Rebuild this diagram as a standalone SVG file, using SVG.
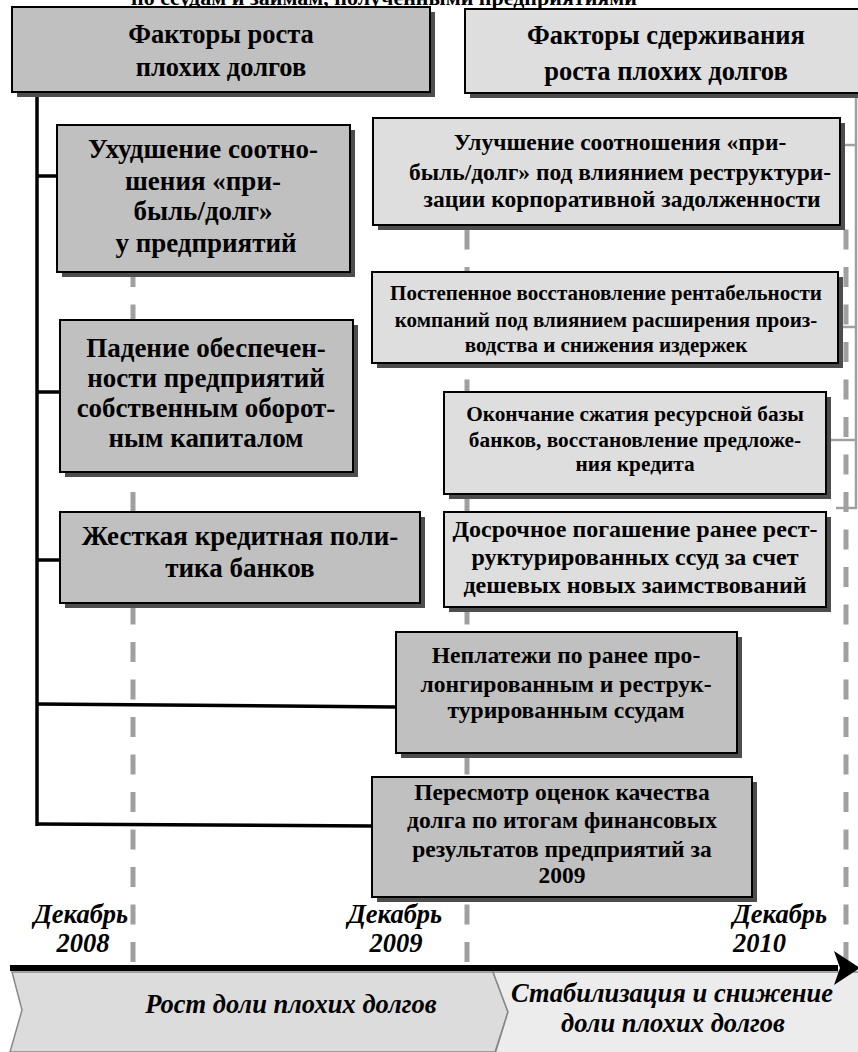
<svg xmlns="http://www.w3.org/2000/svg" width="858" height="1052" viewBox="0 0 858 1052">
<style>
  .t { font-family: "Liberation Serif", "Times New Roman", serif; font-weight: bold; fill: #000; text-anchor: middle; }
  .it { font-style: italic; }
  .dark { fill: #c0c0c0; stroke: #000; stroke-width: 2; }
  .light { fill: #dedede; stroke: #000; stroke-width: 2; }
  .shadow { fill: #4d4d4d; }
  .conn { stroke: #000; stroke-width: 3.5; fill: none; }
  .dash { stroke: #a0a0a0; stroke-width: 5; stroke-dasharray: 20 17.5; fill: none; }
  .brk { stroke: #a0a0a0; stroke-width: 2.5; fill: none; }
</style>
<rect width="858" height="1052" fill="#fff"/>
<text class="t" x="384" y="5" font-size="22">по ссудам и займам, полученными предприятиями</text>

<g id="connectors">
  <line class="dash" x1="133" y1="229.5" x2="133" y2="962"/>
  <line class="dash" x1="467" y1="229.5" x2="467" y2="962"/>
  <line class="dash" x1="846" y1="229.5" x2="846" y2="962"/>
  <polyline class="brk" points="856,93 856,508"/>
  <line class="brk" x1="845" y1="145" x2="856" y2="145"/>
  <line class="brk" x1="843" y1="327" x2="856" y2="327"/>
  <line class="brk" x1="831" y1="440" x2="856" y2="440"/>
  <line class="brk" x1="836" y1="508" x2="857" y2="508"/>
  <line class="conn" x1="37" y1="92" x2="37" y2="826"/>
  <line class="conn" x1="37" y1="176" x2="57" y2="176"/>
  <line class="conn" x1="37" y1="392" x2="60" y2="392"/>
  <line class="conn" x1="37" y1="560" x2="60" y2="560"/>
  <line class="conn" x1="37" y1="704" x2="396" y2="707"/>
  <line class="conn" x1="37" y1="824" x2="372" y2="826"/>
</g>

<g id="header-left">
  <rect class="shadow" x="17" y="12" width="418" height="85"/>
  <rect class="dark" x="12" y="7" width="418" height="85"/>
  <text class="t" x="221" y="43" font-size="26.5">Факторы роста</text>
  <text class="t" x="221" y="76" font-size="26.5">плохих долгов</text>
</g>
<g id="header-right">
  <rect class="shadow" x="470" y="14" width="400" height="84"/>
  <rect class="light" x="465" y="9" width="400" height="84" stroke-width="3"/>
  <text class="t" x="666" y="44" font-size="26.5">Факторы сдерживания</text>
  <text class="t" x="666" y="80" font-size="26.5">роста плохих долгов</text>
</g>

<g id="box-ratio-worse">
  <rect class="shadow" x="62" y="130" width="293" height="147"/>
  <rect class="dark" x="57" y="125" width="293" height="147"/>
  <text class="t" x="203" y="158" font-size="27">Ухудшение соотно-</text>
  <text class="t" x="203" y="190" font-size="27">шения «при-</text>
  <text class="t" x="203" y="220" font-size="27">быль/долг»</text>
  <text class="t" x="206" y="252" font-size="27">у предприятий</text>
</g>
<g id="box-capital">
  <rect class="shadow" x="65" y="325" width="293" height="152"/>
  <rect class="dark" x="60" y="320" width="293" height="152"/>
  <text class="t" x="206" y="357" font-size="27">Падение обеспечен-</text>
  <text class="t" x="206" y="387" font-size="27">ности предприятий</text>
  <text class="t" x="206" y="417" font-size="27">собственным оборот-</text>
  <text class="t" x="206" y="447" font-size="27">ным капиталом</text>
</g>
<g id="box-credit-policy">
  <rect class="shadow" x="65" y="517" width="360" height="91"/>
  <rect class="dark" x="60" y="512" width="360" height="91"/>
  <text class="t" x="240" y="545" font-size="27">Жесткая кредитная поли-</text>
  <text class="t" x="240" y="577" font-size="27">тика банков</text>
</g>
<g id="box-nonpayments">
  <rect class="shadow" x="401" y="637" width="341" height="121"/>
  <rect class="dark" x="396" y="632" width="341" height="121"/>
  <text class="t" x="566" y="663" font-size="23.6">Неплатежи по ранее про-</text>
  <text class="t" x="566" y="692" font-size="23.6">лонгированным и реструк-</text>
  <text class="t" x="566" y="718" font-size="23.6">турированным ссудам</text>
</g>
<g id="box-revision">
  <rect class="shadow" x="377" y="782" width="380" height="120"/>
  <rect class="dark" x="372" y="777" width="380" height="120"/>
  <text class="t" x="562" y="800" font-size="23.5">Пересмотр оценок качества</text>
  <text class="t" x="562" y="828" font-size="23.5">долга по итогам финансовых</text>
  <text class="t" x="562" y="857" font-size="23.5">результатов предприятий за</text>
  <text class="t" x="562" y="883" font-size="23.5">2009</text>
</g>

<g id="box-ratio-better">
  <rect class="shadow" x="378" y="123" width="467" height="107"/>
  <rect class="light" x="373" y="118" width="467" height="107"/>
  <text class="t" x="620" y="150" font-size="23.5">Улучшение соотношения «при-</text>
  <text class="t" x="620" y="180" font-size="23.5">быль/долг» под влиянием реструктури-</text>
  <text class="t" x="622" y="207" font-size="23.5">зации корпоративной задолженности</text>
</g>
<g id="box-profitability">
  <rect class="shadow" x="377" y="277" width="466" height="91"/>
  <rect class="light" x="372" y="272" width="466" height="91"/>
  <text class="t" x="606" y="300" font-size="21">Постепенное восстановление рентабельности</text>
  <text class="t" x="606" y="327" font-size="21">компаний под влиянием расширения произ-</text>
  <text class="t" x="606" y="352" font-size="21">водства и снижения издержек</text>
</g>
<g id="box-resource-base">
  <rect class="shadow" x="449" y="397" width="382" height="102"/>
  <rect class="light" x="444" y="392" width="382" height="102"/>
  <text class="t" x="635" y="421" font-size="21.3">Окончание сжатия ресурсной базы</text>
  <text class="t" x="635" y="447" font-size="21.3">банков, восстановление предложе-</text>
  <text class="t" x="635" y="471" font-size="21.3">ния кредита</text>
</g>
<g id="box-early-repayment">
  <rect class="shadow" x="449" y="517" width="382" height="95"/>
  <rect class="light" x="444" y="512" width="382" height="95"/>
  <text class="t" x="635" y="537" font-size="24">Досрочное погашение ранее рест-</text>
  <text class="t" x="635" y="565" font-size="24">руктурированных ссуд за счет</text>
  <text class="t" x="635" y="593" font-size="24">дешевых новых заимствований</text>
</g>

<g id="dates">
  <text class="t it" x="81" y="923" font-size="26.5">Декабрь</text>
  <text class="t it" x="83" y="952" font-size="26.5">2008</text>
  <text class="t it" x="395" y="923" font-size="26.5">Декабрь</text>
  <text class="t it" x="396" y="952" font-size="26.5">2009</text>
  <text class="t it" x="780" y="923" font-size="26.5">Декабрь</text>
  <text class="t it" x="733" y="952" font-size="26.5" style="text-anchor:start">2010</text>
</g>

<g id="phase-growth">
  <polygon points="12,972 493,972 508,1012 495,1052 10,1052 22,1010" fill="#dcdcdc" stroke="#888" stroke-width="1.5"/>
  <text class="t it" x="291" y="1013" font-size="26.5">Рост доли плохих долгов</text>
</g>
<g id="phase-stabilization">
  <polygon points="493,972 860,972 860,1054 495,1054 508,1012" fill="#ececec" stroke="#888" stroke-width="1.5"/>
  <text class="t it" x="672" y="1002" font-size="26.5">Стабилизация и снижение</text>
  <text class="t it" x="673" y="1032" font-size="26.5">доли плохих долгов</text>
</g>

<g id="timeline-axis">
  <line x1="10" y1="968" x2="838" y2="968" stroke="#000" stroke-width="6"/>
  <polygon points="834,951 860,968 834,985 840,968" fill="#000"/>
</g>
</svg>
